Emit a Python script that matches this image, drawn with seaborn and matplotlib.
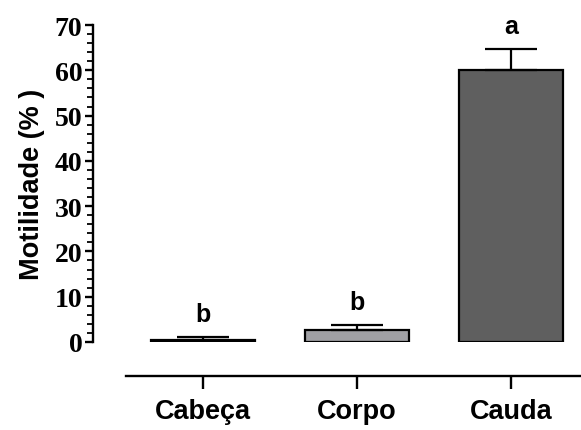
import numpy as np
import seaborn as sns
import matplotlib.pyplot as plt
from matplotlib.ticker import MultipleLocator

# values
groups = ['Cabeça', 'Corpo', 'Cauda']
means = [0.5, 2.6, 60.0]
sem = [0.5, 1.1, 4.6]
letters = ['b', 'b', 'a']
colors = ['#000000', '#a0a0a4', '#5f5f5f']
yticks = [0, 10, 20, 30, 40, 50, 60, 70]

sns.set_style('ticks')
plt.rcParams['font.family'] = ['Liberation Sans', 'DejaVu Sans']
plt.rcParams['text.color'] = 'black'
plt.rcParams['axes.labelcolor'] = 'black'
plt.rcParams['xtick.color'] = 'black'
plt.rcParams['ytick.color'] = 'black'

fig = plt.figure(figsize=(5.81, 4.31), dpi=100)
ax = fig.add_axes([126 / 581, 1 - 343 / 431, 454 / 581, 317 / 431])

sns.barplot(x=groups, y=means, hue=groups, palette=colors, legend=False,
            edgecolor='black', linewidth=1.6, width=0.67, errorbar=None,
            saturation=1, ax=ax)

xpos = np.arange(len(groups))
ax.errorbar(xpos, means, yerr=[np.zeros(len(means)), sem], fmt='none',
            ecolor='black', elinewidth=1.6, capsize=18.4, capthick=1.6,
            zorder=1)

for x, m, e, lab in zip(xpos, means, sem, letters):
    ax.annotate(lab, xy=(x, m + e), xytext=(0, 12), textcoords='offset points',
                ha='center', va='baseline', fontsize=18, fontweight='bold',
                family=['Liberation Sans'])

ax.set_ylim(0, 70)
ax.set_xlim(-0.5, 2.448)
ax.set_yticks(yticks)
ax.yaxis.set_minor_locator(MultipleLocator(2))

sns.despine(ax=ax)
ax.spines['left'].set_position(('outward', 23.5))
ax.spines['bottom'].set_position(('outward', 24.5))
for s in ['left', 'bottom']:
    ax.spines[s].set_linewidth(1.7)
    ax.spines[s].set_color('black')

ax.tick_params(axis='y', which='major', length=6, width=1.7, pad=2)
ax.tick_params(axis='y', which='minor', length=4, width=1.3)
ax.tick_params(axis='x', which='major', length=9.5, width=1.7, pad=6)

for t in ax.get_yticklabels():
    t.set_family(['Liberation Serif'])
    t.set_fontweight('bold')
    t.set_fontsize(20)
for t in ax.get_xticklabels():
    t.set_family(['Liberation Sans'])
    t.set_fontweight('bold')
    t.set_fontsize(19.5)

ax.set_xlabel('')
ax.set_ylabel('Motilidade (% )', fontsize=19.5, fontweight='bold', labelpad=7)

fig.savefig('out.png', dpi=100)
